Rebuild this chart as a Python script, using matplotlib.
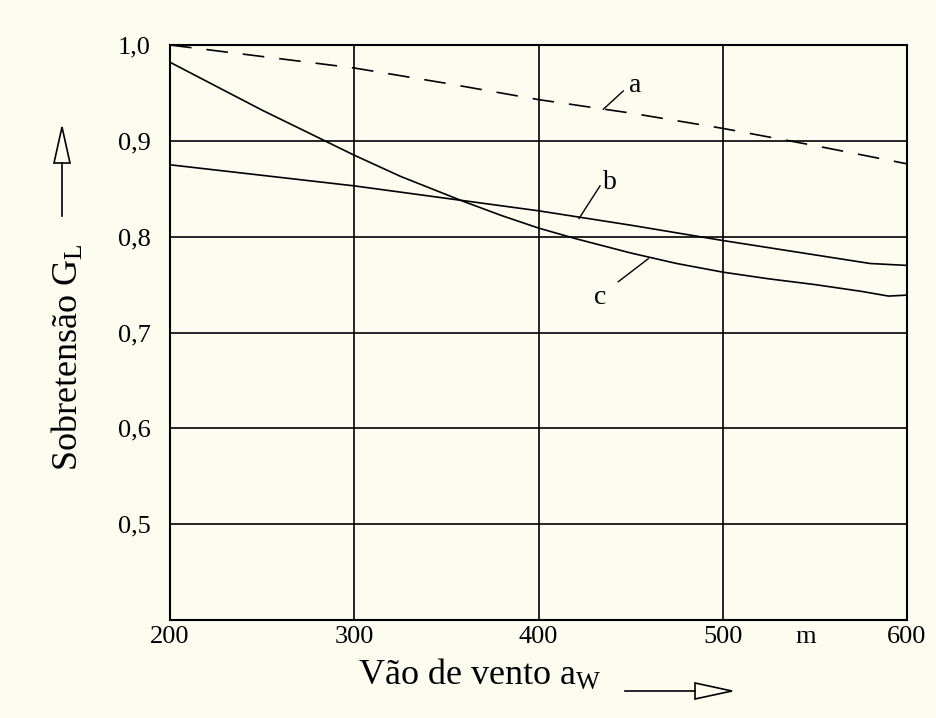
#!/usr/bin/env python3
"""Sobretensão G_L vs vão de vento a_W (curvas a, b, c)."""

import matplotlib

matplotlib.use("Agg")
import matplotlib.pyplot as plt
from matplotlib.patches import Polygon
from matplotlib.lines import Line2D

plt.rcParams["font.family"] = ["Liberation Serif", "DejaVu Serif"]
plt.rcParams["mathtext.fontset"] = "custom"
plt.rcParams["mathtext.rm"] = "Liberation Serif"
plt.rcParams["mathtext.it"] = "Liberation Serif"

BG = "#fdfcf1"

# curve a (dashed)
A_X = [200, 250, 300, 350, 400, 450, 500, 550, 600]
A_Y = [1.000, 0.988, 0.976, 0.960, 0.943, 0.929, 0.913, 0.895, 0.876]
# curve b
B_X = [200, 250, 300, 350, 400, 450, 500, 550, 580, 600]
B_Y = [0.875, 0.864, 0.853, 0.840, 0.827, 0.812, 0.796, 0.781, 0.772, 0.770]
# curve c
C_X = [200, 225, 250, 283, 300, 325, 359, 380, 400, 420, 450, 475, 500,
       525, 550, 575, 590, 600]
C_Y = [0.982, 0.957, 0.932, 0.901, 0.885, 0.863, 0.837, 0.822, 0.809, 0.798,
       0.783, 0.772, 0.763, 0.756, 0.750, 0.743, 0.738, 0.739]

X_TICKS = [200, 300, 400, 500, 600]
Y_TICKS = [0.5, 0.6, 0.7, 0.8, 0.9, 1.0]
Y_TICK_LABELS = ["0,5", "0,6", "0,7", "0,8", "0,9", "1,0"]

# curve labels: (text, label x, label y, leader start, leader end)
CURVE_LABELS = [
    ("a", 452.4, 0.958, (446.0, 0.952), (435.2, 0.933)),
    ("b", 438.8, 0.857, (433.4, 0.853), (422.0, 0.819)),
    ("c", 433.4, 0.737, (443.3, 0.753), (459.6, 0.777)),
]

SERIF = ["Liberation Serif", "DejaVu Serif"]


def px(x, y):
    """pixel position -> figure fraction"""
    return x / 936, 1 - y / 718


fig = plt.figure(figsize=(9.36, 7.18), dpi=100)
fig.patch.set_facecolor(BG)
ax = fig.add_axes([170 / 936, 98 / 718, 737 / 936, 575 / 718])
ax.set_facecolor(BG)

ax.plot(A_X, A_Y, c="black", lw=1.2, ls=(0, (13, 9)))
ax.plot(B_X, B_Y, c="black", lw=1.2)
ax.plot(C_X, C_Y, c="black", lw=1.2)

for txt, lx, ly, p0, p1 in CURVE_LABELS:
    ax.text(lx, ly, txt, fontsize=20, ha="center", va="center")
    ax.plot([p0[0], p1[0]], [p0[1], p1[1]], c="black", lw=1.0)

ax.set_xlim(200, 600)
ax.set_ylim(0.4, 1.0)
ax.set_xticks(X_TICKS)
ax.set_yticks(Y_TICKS)
ax.set_yticklabels(Y_TICK_LABELS)
ax.tick_params(axis="both", length=0, labelsize=19)
ax.tick_params(axis="x", pad=4)
ax.tick_params(axis="y", pad=14)
ax.grid(True, c="black", lw=1.2)
for sp in ax.spines.values():
    sp.set_linewidth(1.5)

ax.text(545, -0.01, "m", transform=ax.get_xaxis_transform(),
        fontsize=19, ha="center", va="top")

# axis titles with hollow arrows
fig.text(*px(358, 685), "Vão de vento a$_\\mathrm{W}$", fontsize=26,
         family=SERIF, ha="left", va="baseline")
fig.add_artist(Line2D([625 / 936, 695 / 936], [1 - 691 / 718] * 2,
                      c="black", lw=1.2))
fig.add_artist(Polygon([px(695, 683), px(732, 691), px(695, 699)], closed=True,
                       facecolor=BG, edgecolor="black", lw=1.2,
                       transform=fig.transFigure))

fig.text(*px(68, 357), "Sobretensão G$_\\mathrm{L}$", fontsize=26,
         family=SERIF, rotation=90, ha="center", va="center")
fig.add_artist(Line2D([62 / 936] * 2, [1 - 216 / 718, 1 - 163 / 718],
                      c="black", lw=1.2))
fig.add_artist(Polygon([px(62, 127), px(54, 163), px(70, 163)], closed=True,
                       facecolor=BG, edgecolor="black", lw=1.2,
                       transform=fig.transFigure))

fig.savefig("out.png", dpi=100, facecolor=BG)
